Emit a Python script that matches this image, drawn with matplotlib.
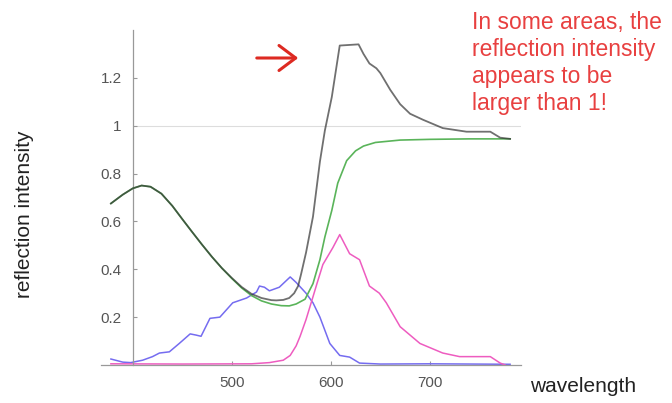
import matplotlib
matplotlib.use("Agg")
import matplotlib.pyplot as plt

plt.rcParams['font.family'] = ['Liberation Sans', 'DejaVu Sans']

# total reflection (black) and smooth green curve share the left part
wl_green = [378, 390, 400, 409, 418, 429, 440, 450, 460, 470, 480, 490, 500, 510, 520,
            530, 540, 550, 558, 565, 574, 582, 589, 594, 601, 607, 616, 625, 633, 645,
            670, 700, 740, 781]
green = [0.675, 0.712, 0.738, 0.750, 0.745, 0.716, 0.665, 0.610, 0.556, 0.503, 0.452,
         0.405, 0.362, 0.322, 0.290, 0.268, 0.255, 0.248, 0.247, 0.255, 0.275, 0.34,
         0.44, 0.535, 0.646, 0.76, 0.854, 0.895, 0.915, 0.93, 0.94, 0.943, 0.945, 0.945]

wl_black = [378, 390, 400, 409, 418, 429, 440, 450, 460, 470, 480, 490, 500, 510, 520,
            530, 540, 545, 552, 558, 563, 567, 570, 575, 582, 589, 594, 601, 609, 628,
            633, 639, 646, 650, 660, 670, 680, 693, 713, 737, 761, 771, 781]
black = [0.675, 0.712, 0.738, 0.750, 0.745, 0.716, 0.665, 0.610, 0.556, 0.503, 0.452,
         0.405, 0.364, 0.326, 0.297, 0.280, 0.271, 0.270, 0.272, 0.28, 0.30, 0.33, 0.38,
         0.47, 0.62, 0.85, 0.98, 1.12, 1.335, 1.34, 1.30, 1.26, 1.24, 1.22, 1.15, 1.09,
         1.05, 1.025, 0.99, 0.975, 0.975, 0.95, 0.945]

wl_blue = [378, 390, 398, 410, 420, 427, 437, 447, 458, 464, 469, 478, 488, 501, 515,
           525, 528, 533, 538, 548, 559, 565, 575, 582, 589, 599, 609, 619, 629, 650,
           700, 781]
blue = [0.025, 0.012, 0.01, 0.02, 0.035, 0.05, 0.055, 0.09, 0.13, 0.125, 0.12, 0.195,
        0.2, 0.26, 0.28, 0.305, 0.33, 0.325, 0.31, 0.325, 0.368, 0.345, 0.30, 0.26, 0.2,
        0.09, 0.04, 0.033, 0.008, 0.004, 0.005, 0.003]

wl_magenta = [378, 450, 520, 538, 552, 559, 565, 569, 575, 582, 586, 592, 602, 609, 619,
              629, 639, 649, 656, 670, 690, 713, 730, 761, 771, 776]
magenta = [0.005, 0.004, 0.005, 0.01, 0.02, 0.04, 0.08, 0.12, 0.19, 0.285, 0.34, 0.42,
           0.49, 0.545, 0.465, 0.44, 0.33, 0.30, 0.26, 0.16, 0.09, 0.05, 0.035, 0.035,
           0.008, 0.0]

xticks = [500, 600, 700]
yticks = [0.2, 0.4, 0.6, 0.8, 1.0, 1.2]
ylabels = ["0.2", "0.4", "0.6", "0.8", "1", "1.2"]

fig = plt.figure(figsize=(6.72, 4.03), dpi=100)
ax = fig.add_axes([101 / 672, 38 / 403, 420 / 672, 335 / 403])

ax.hlines(1.0, 400, 792, color='#dddddd', lw=0.8, zorder=1)

ax.plot(wl_blue, blue, color='#756cf0', lw=1.1, zorder=2)
ax.plot(wl_magenta, magenta, color='#ee5cc0', lw=1.1, zorder=2)
ax.plot(wl_green, green, color='#5ab45a', lw=1.2, zorder=3)
ax.plot(wl_black, black, color='#333333', lw=1.3, alpha=0.7, zorder=4)

ax.set_xlim(368, 792)
ax.set_ylim(0, 1.4)
ax.spines['top'].set_visible(False)
ax.spines['right'].set_visible(False)
ax.spines['left'].set_position(('data', 400))
for s in ['left', 'bottom']:
    ax.spines[s].set_color('#999999')
    ax.spines[s].set_linewidth(0.9)

ax.set_xticks(xticks)
ax.set_yticks(yticks)
ax.set_yticklabels(ylabels)
ax.tick_params(direction='in', length=3, width=0.8, color='#999999',
               labelsize=11, labelcolor='#555555', pad=8)

fig.text(25 / 672, 1 - 214 / 403, "reflection intensity", rotation=90,
         ha='center', va='center', fontsize=15, color='#222222')
fig.text(530 / 672, 1 - 387 / 403, "wavelength", ha='left', va='center',
         fontsize=15, color='#222222')

fig.text(472 / 672, 1 - 11 / 403, "In some areas, the\nreflection intensity\nappears to be\nlarger than 1!",
         ha='left', va='top', fontsize=16.5, color='#e84040', linespacing=1.22)

ax.annotate("", xy=(301, 345), xytext=(254, 345), xycoords='figure pixels',
            textcoords='figure pixels',
            arrowprops=dict(arrowstyle='->, head_length=0.8, head_width=0.6',
                            mutation_scale=15, color='#dd2a22', lw=2.2))

fig.savefig("out.png", dpi=100)
